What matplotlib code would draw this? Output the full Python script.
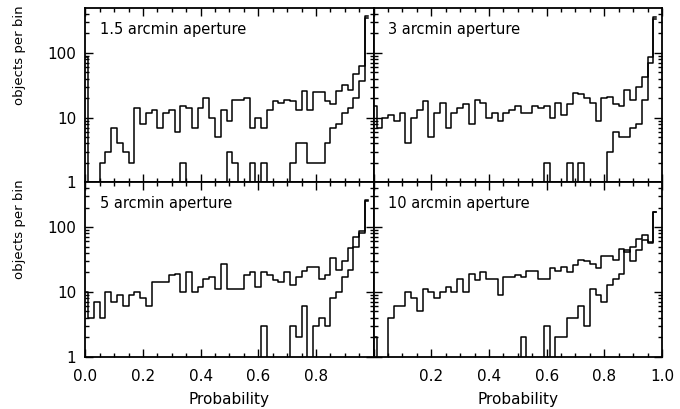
import numpy as np
import matplotlib
matplotlib.use("Agg")
import matplotlib.pyplot as plt
from matplotlib.ticker import FixedLocator, LogLocator, MultipleLocator, NullFormatter

# bin positions (IDL psym=10 style histograms, 0.02 wide bins)
probability = np.arange(50) * 0.02

# counts per bin; upper = all objects, lower = second sample
all_15 = [85, 0, 0, 2, 3, 7, 4, 3, 2, 14,
          8, 12, 13, 7, 12, 13, 6, 15, 14, 7,
          14, 20, 10, 5, 13, 9, 19, 19, 20, 7,
          10, 7, 13, 18, 17, 19, 18, 13, 26, 13,
          25, 25, 18, 16, 26, 32, 27, 47, 63, 370]
low_15 = [0] * 17 + [2] + [0] * 7 + [3, 2, 0, 0, 2, 0, 2, 0, 0, 0,
                                     0, 2, 4, 4, 2, 2, 2, 4, 7, 8,
                                     12, 14, 20, 37, 340]

all_3 = [15, 7, 10, 11, 9, 12, 4, 10, 13, 18,
         5, 12, 17, 7, 12, 14, 16, 8, 19, 17,
         10, 12, 9, 12, 13, 15, 12, 12, 15, 14,
         15, 10, 17, 11, 16, 24, 23, 20, 17, 9,
         20, 21, 16, 15, 27, 19, 30, 43, 70, 360]
low_3 = [0] * 30 + [2, 0, 0, 0, 2, 0, 2, 0, 0, 0,
                    0, 3, 6, 5, 5, 7, 8, 19, 85, 330]

all_5 = [10, 4, 7, 4, 10, 7, 9, 6, 9, 10,
         8, 6, 14, 14, 14, 18, 19, 10, 20, 10,
         12, 16, 17, 11, 27, 11, 11, 11, 18, 20,
         12, 20, 18, 15, 14, 20, 13, 17, 21, 24,
         24, 16, 18, 33, 22, 30, 48, 70, 88, 250]
low_5 = [0] * 31 + [3, 0, 0, 0, 0, 3, 2, 6, 0, 3,
                    4, 3, 8, 10, 17, 22, 50, 80, 260]

all_10 = [2, 0, 0, 4, 6, 6, 10, 8, 5, 11,
          10, 8, 10, 12, 10, 16, 10, 19, 15, 20,
          16, 16, 9, 17, 17, 18, 17, 21, 21, 16,
          16, 23, 21, 24, 20, 26, 31, 30, 27, 23,
          36, 36, 31, 46, 41, 50, 65, 75, 56, 170]
low_10 = [0] * 26 + [2, 0, 0, 0, 3, 0, 2, 2, 4, 4,
                     6, 3, 11, 9, 7, 13, 16, 19, 45, 30,
                     45, 63, 58, 170]

panel_names = ["1.5 arcmin aperture", "3 arcmin aperture",
               "5 arcmin aperture", "10 arcmin aperture"]
upper_sets = [all_15, all_3, all_5, all_10]
lower_sets = [low_15, low_3, low_5, low_10]

xtick_pos = [0.0, 0.2, 0.4, 0.6, 0.8, 1.0]
xlabels_left = ["0.0", "0.2", "0.4", "0.6", "0.8", ""]
xlabels_right = ["", "0.2", "0.4", "0.6", "0.8", "1.0"]

fig, axes = plt.subplots(2, 2, figsize=(6.8, 4.09), dpi=100)
fig.subplots_adjust(left=0.1254, right=0.9735, top=0.980, bottom=0.128,
                    wspace=0, hspace=0)

for k, ax in enumerate(axes.flat):
    row, col = divmod(k, 2)
    ax.step(probability, upper_sets[k], where="mid", color="black", lw=1.1)
    ax.step(probability, lower_sets[k], where="mid", color="black", lw=1.1)
    ax.set_yscale("log", nonpositive="clip")
    ax.set_xlim(0, 1)
    ax.set_ylim(1, 490)

    ax.yaxis.set_major_locator(FixedLocator([1, 10, 100]))
    ax.yaxis.set_minor_locator(LogLocator(base=10, subs=np.arange(2, 10)))
    ax.yaxis.set_minor_formatter(NullFormatter())
    ax.xaxis.set_minor_locator(MultipleLocator(0.05))

    ax.tick_params(which="both", direction="in", top=True, right=True, width=1)
    ax.tick_params(which="major", length=6)
    ax.tick_params(which="minor", length=3)
    ax.tick_params(axis="x", pad=9, labelsize=11)
    ax.tick_params(axis="y", pad=6.5, labelsize=11)
    for sp in ax.spines.values():
        sp.set_linewidth(1.3)

    if col == 0:
        ax.set_yticks([1, 10, 100], ["1", "10", "100"])
        ax.set_ylabel("objects per bin", fontsize=9.5)
        ax.yaxis.set_label_coords(-0.205, 0.73)
    else:
        ax.tick_params(labelleft=False)

    if row == 0:
        ax.set_xticks(xtick_pos)
        ax.tick_params(labelbottom=False)
    else:
        ax.set_xticks(xtick_pos, xlabels_left if col == 0 else xlabels_right)
        ax.set_xlabel("Probability", fontsize=11)
        ax.xaxis.set_label_coords(0.5, -0.205)

    ax.text(0.05, 0.88, panel_names[k], transform=ax.transAxes,
            fontsize=10.5, va="center", ha="left")

fig.savefig("out.png", dpi=100)
